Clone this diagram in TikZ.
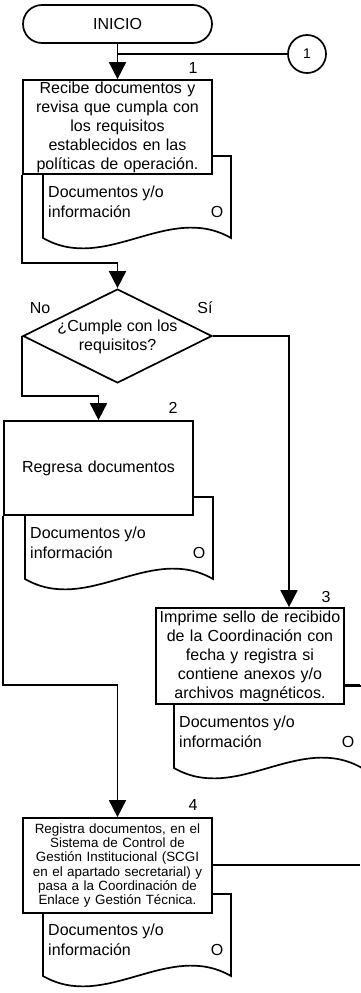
\documentclass[tikz,border=0pt]{standalone}
\usepackage{fontspec}
\setmainfont{Liberation Sans}
\usetikzlibrary{arrows.meta,shapes.geometric}
\tikzset{
  every node/.style={font=\fontsize{16}{19}\selectfont},
  ln/.style={line width=1.7pt},
  arr/.style={ln,-{Triangle[length=17pt,width=17pt]}},
  stepbox/.style={draw,ln,fill=white,rectangle,inner sep=0pt,align=center},
  term/.style={draw,ln,fill=white,rectangle,rounded corners=19pt,minimum width=189pt,minimum height=38pt,inner sep=0pt},
  conn/.style={draw,ln,circle,minimum size=38pt,inner sep=0pt,font=\fontsize{14}{16}\selectfont},
  dia/.style={draw,ln,diamond,aspect=2.01,minimum width=189pt,minimum height=94pt,inner sep=0pt},
  lbl/.style={inner sep=0pt},
  doc/.pic={
    \draw[ln,fill=white] (0,0) -- (188,0) -- (188,-82)
      .. controls (125.3,-46) and (62.7,-118) .. (0,-82) -- cycle;
    \node[lbl,anchor=west] (-l1) at (5,-37) {Documentos y/o};
    \node[lbl,anchor=west] (-l2) at (5,-56) {información};
    \node[lbl] (-o) at (174,-56) {O};
  }
}
\begin{document}
\begin{tikzpicture}[x=1pt,y=1pt]
\useasboundingbox (0,0) rectangle (360,-993);

% documents (behind the boxes)
\pic (d1) at (43,-156) {doc};
\pic (d2) at (25,-497) {doc};
\pic (d3) at (174,-686) {doc};
\pic (d4) at (43,-894) {doc};

% nodes
\node[term] (ini) at (117.5,-24) {INICIO};
\node[conn] (c1) at (307,-54) {1};
\node[stepbox,minimum width=189pt,minimum height=94pt,text width=185pt] (b1) at (117.5,-127)
  {Recibe documentos y\\revisa que cumpla con\\los requisitos\\establecidos en las\\políticas de operación.};
\node[dia] (d) at (117.5,-336) {};
\node[lbl,align=center] (dt) at (117.5,-337) {¿Cumple con los\\requisitos?};
\node[stepbox,minimum width=189pt,minimum height=94pt,text width=185pt] (b2) at (98.5,-468) {Regresa documentos};
\node[stepbox,minimum width=188pt,minimum height=96pt,text width=186pt] (b3) at (250,-656)
  {Imprime sello de recibido\\de la Coordinación con\\fecha y registra si\\contiene anexos y/o\\archivos magnéticos.};
\node[stepbox,minimum width=189pt,minimum height=95pt,text width=187pt,font=\fontsize{13.4}{14.3}\selectfont] (b4) at (117.5,-865.5)
  {Registra documentos, en el\\Sistema de Control de\\Gestión Institucional (SCGI\\en el apartado secretarial) y\\pasa a la Coordinación de\\Enlace y Gestión Técnica.};

% labels
\node[lbl] (n1) at (193,-68) {1};
\node[lbl] (n2) at (173,-408) {2};
\node[lbl] (n3) at (326,-597) {3};
\node[lbl] (n4) at (193,-805) {4};
\node[lbl] (no) at (40,-308) {No};
\node[lbl] (si) at (205,-308) {Sí};

% connector junctions
\coordinate (j1) at (117.5,-54);
\coordinate (e3) at (360,-685);
\coordinate (e4) at (360,-865);

% connectors
\draw[arr] (ini.south) -- (b1.north);
\draw[ln] (c1.west) -- (j1);
\draw[arr] (b1.south west) -- ++(0,-88) -| (d.north);
\draw[arr] (d.west) -- ++(0,-60) -| (b2.north);
\draw[arr] (d.east) -| (b3.north -| 289,0);
\draw[arr] (b2.south west) -- ++(0,-169) -| (b4.north);
\draw[ln] (b3.east |- e3) -- (e3);
\draw[ln] (b4.east |- e4) -- (e4);
\end{tikzpicture}
\end{document}
